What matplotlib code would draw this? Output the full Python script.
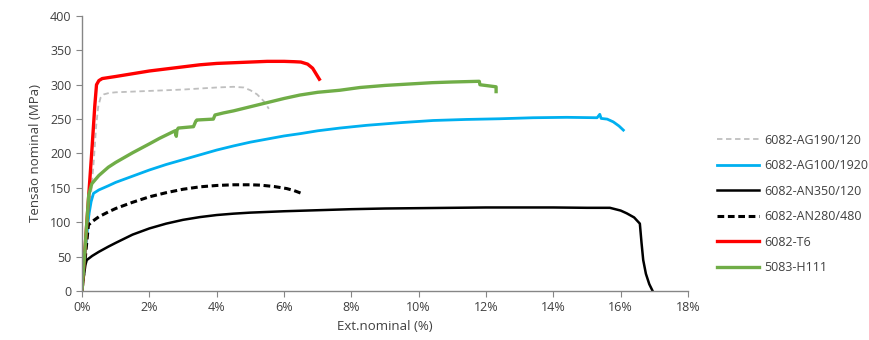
import matplotlib
matplotlib.use("Agg")
import matplotlib.pyplot as plt
from matplotlib.ticker import FuncFormatter, MultipleLocator

plt.rcParams['font.family'] = ['Open Sans', 'DejaVu Sans']

# strain (%) / stress (MPa)
ag190_x = [0, 0.2, 0.35, 0.42, 0.48, 0.55, 0.65, 0.8, 1.0, 2.0, 3.0, 4.0, 4.5, 4.8, 5.0, 5.2, 5.4, 5.55]
ag190_y = [0, 100, 190, 240, 268, 281, 286, 288, 289, 291, 293, 296, 297, 296, 292, 286, 276, 265]

ag100_x = [0, 0.1, 0.2, 0.27, 0.34, 0.5, 0.78, 1.0, 1.5, 2.0, 2.5, 3.0, 3.5, 4.0, 4.5, 5.0, 5.5, 6.0, 6.5, 7.0, 7.66, 8.46, 9.5, 10.43, 11.4, 12.4, 13.4, 14.4, 15.3, 15.38, 15.42, 15.6, 15.78, 15.95, 16.08]
ag100_y = [0, 60, 110, 130, 142, 147, 153, 158, 167, 176, 184, 191, 198, 205, 211, 216.5, 221, 225.5, 229, 233, 237, 241, 245, 248, 249.5, 250.5, 252, 252.6, 252, 257, 251, 250, 246, 240, 234]

an350_x = [0, 0.05, 0.1, 0.14, 0.3, 0.5, 0.78, 1.0, 1.5, 2.0, 2.5, 3.0, 3.5, 4.0, 4.5, 5.0, 6.0, 7.0, 8.0, 9.0, 10.0, 11.0, 12.0, 13.0, 14.0, 15.0, 15.68, 16.0, 16.18, 16.4, 16.57, 16.62, 16.67, 16.75, 16.85, 16.95]
an350_y = [0, 20, 38, 45, 51, 57, 64.5, 70, 82, 91, 98, 103.5, 107.5, 110.5, 112.5, 114, 116, 117.5, 119, 120, 120.5, 121, 121.5, 121.5, 121.5, 121, 121, 117, 113, 107, 98, 70, 45, 25, 10, 0]

an280_x = [0, 0.1, 0.19, 0.3, 0.5, 0.78, 1.0, 1.5, 2.0, 2.5, 3.0, 3.5, 4.0, 4.5, 5.0, 5.29, 5.7, 6.08, 6.3, 6.52]
an280_y = [0, 50, 96, 101, 108, 115, 120, 129, 137, 143, 148, 151.5, 153.5, 154.5, 154.5, 154, 152, 149, 146, 142]

t6_x = [0, 0.1, 0.2, 0.3, 0.38, 0.43, 0.5, 0.6, 1.0, 1.5, 2.0, 2.5, 3.0, 3.5, 4.0, 4.5, 5.0, 5.5, 6.0, 6.3, 6.5, 6.7, 6.85, 6.95, 7.05]
t6_y = [0, 70, 140, 210, 270, 300, 306, 309, 312, 316, 320, 323, 326, 329, 331, 332, 333, 334, 334, 333.5, 333, 330, 324, 316, 308]

h111_x = [0, 0.1, 0.2, 0.29, 0.5, 0.78, 1.0, 1.5, 2.0, 2.3, 2.76, 2.8, 2.82, 2.86, 3.31, 3.38, 3.41, 3.9, 3.95, 4.2, 4.5, 5.0, 5.5, 6.0, 6.47, 7.0, 7.66, 8.26, 9.0, 10.4, 11.0, 11.8, 11.82, 12.3, 12.3]
h111_y = [0, 70, 140, 156, 168, 180, 187, 201, 214, 222, 233, 225, 234, 237, 239, 247, 248.7, 250, 256, 259, 262, 268, 274, 280, 285, 289, 292, 296, 299, 303, 304, 305, 300, 297, 290]

fig = plt.figure(figsize=(8.69, 3.4), dpi=100)
ax = fig.add_axes([0.0944, 0.1441, 0.6973, 0.8089])

l1, = ax.plot(ag190_x, ag190_y, color='#BFBFBF', lw=1.3, ls=(0, (3, 2)), label='6082-AG190/120')
l2, = ax.plot(ag100_x, ag100_y, color='#00B0F0', lw=2.0, label='6082-AG100/1920')
l3, = ax.plot(an350_x, an350_y, color='black', lw=1.8, label='6082-AN350/120')
l4, = ax.plot(an280_x, an280_y, color='black', lw=2.2, ls=(0, (2.2, 1.2)), label='6082-AN280/480')
l5, = ax.plot(t6_x, t6_y, color='#FF0000', lw=2.4, label='6082-T6')
l6, = ax.plot(h111_x, h111_y, color='#70AD47', lw=2.4, label='5083-H111')

ax.set_xlim(0, 18)
ax.set_ylim(0, 400)
ax.xaxis.set_major_locator(MultipleLocator(2))
ax.yaxis.set_major_locator(MultipleLocator(50))
ax.xaxis.set_major_formatter(FuncFormatter(lambda v, p: f"{v:.0f}%"))
for s in ['top', 'right']:
    ax.spines[s].set_visible(False)
for s in ['left', 'bottom']:
    ax.spines[s].set_color('#868686')
    ax.spines[s].set_linewidth(1.0)
ax.tick_params(axis='both', direction='out', length=4, color='#868686', labelsize=9, labelcolor='#404040')
ax.set_xlabel('Ext.nominal (%)', fontsize=9.5, color='#404040', labelpad=4)
ax.set_ylabel('Tensão nominal (MPa)', fontsize=9.5, color='#404040', labelpad=6)

leg = fig.legend(handles=[l1, l2, l3, l4, l5, l6], loc='center left',
                 bbox_to_anchor=(0.812, 0.40), frameon=False, fontsize=9,
                 handlelength=3.4, handletextpad=0.4, labelspacing=1.0)
for t in leg.get_texts():
    t.set_color('#404040')

fig.savefig('out.png', dpi=100)
